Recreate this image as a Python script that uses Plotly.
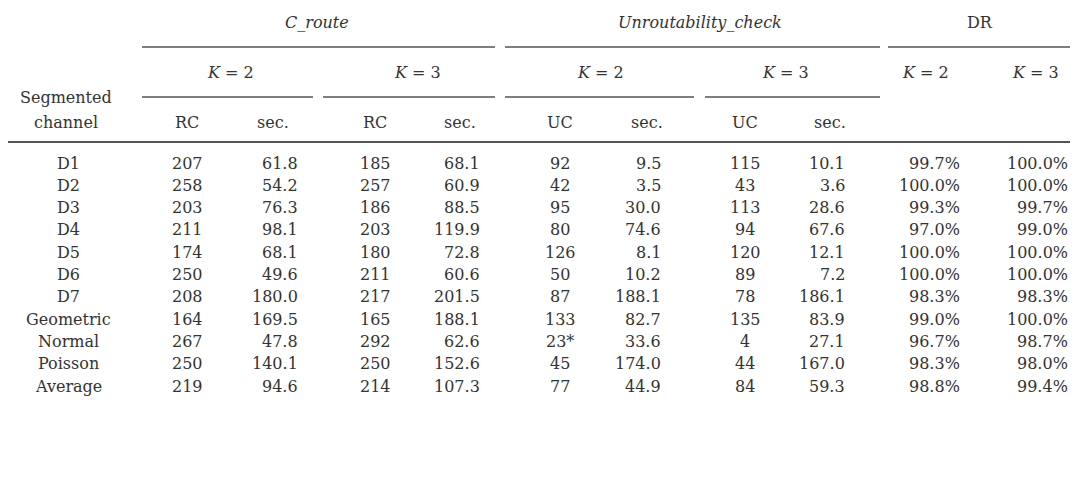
import plotly.graph_objects as go

channels = ["D1","D2","D3","D4","D5","D6","D7","Geometric","Normal","Poisson","Average"]
rc_k2 = ["207","258","203","211","174","250","208","164","267","250","219"]
sec_rc_k2 = ["61.8","54.2","76.3","98.1","68.1","49.6","180.0","169.5","47.8","140.1","94.6"]
rc_k3 = ["185","257","186","203","180","211","217","165","292","250","214"]
sec_rc_k3 = ["68.1","60.9","88.5","119.9","72.8","60.6","201.5","188.1","62.6","152.6","107.3"]
uc_k2 = ["92","42","95","80","126","50","87","133","23*","45","77"]
sec_uc_k2 = ["9.5","3.5","30.0","74.6","8.1","10.2","188.1","82.7","33.6","174.0","44.9"]
uc_k3 = ["115","43","113","94","120","89","78","135","4","44","84"]
sec_uc_k3 = ["10.1","3.6","28.6","67.6","12.1","7.2","186.1","83.9","27.1","167.0","59.3"]
dr_k2 = ["99.7%","100.0%","99.3%","97.0%","100.0%","100.0%","98.3%","99.0%","96.7%","98.3%","98.8%"]
dr_k3 = ["100.0%","100.0%","99.7%","99.0%","100.0%","100.0%","98.3%","100.0%","98.7%","98.0%","99.4%"]

FONT = "DejaVu Serif"
COL = "#333333"
fig = go.Figure()
ann = []
def t(x, y, s, anchor="center", italic=False, size=16):
    if italic:
        s = "<i>" + s + "</i>"
    ann.append(dict(x=x, y=y, text=s, xref="x", yref="y", showarrow=False,
                    xanchor=anchor, yanchor="middle", font=dict(family=FONT, size=size, color=COL)))

shapes = []
def hl(x0, x1, y, w=1.3):
    shapes.append(dict(type="line", xref="x", yref="y", x0=x0, x1=x1, y0=y, y1=y,
                       line=dict(color="#555555", width=w)))

t(317, 22, "C_route", italic=True)
t(700, 22, "Unroutability_check", italic=True)
t(980, 22, "DR")
hl(142, 495, 47); hl(505, 880, 47); hl(888, 1075, 47)
for x, s in [(230, "<i>K</i> = 2"), (417, "<i>K</i> = 3"), (600, "<i>K</i> = 2"),
             (785, "<i>K</i> = 3"), (925, "<i>K</i> = 2"), (1035, "<i>K</i> = 3")]:
    t(x, 72, s)
hl(142, 313, 97); hl(323, 495, 97); hl(505, 694, 97); hl(705, 880, 97)
t(66, 97, "Segmented"); t(66, 122, "channel")
for x, s in [(187, "RC"), (273, "sec."), (375, "RC"), (460, "sec."),
             (560, "UC"), (647, "sec."), (745, "UC"), (830, "sec.")]:
    t(x, 122, s)
hl(0, 1075, 142, 2)

cols = [(channels, 68, "center"), (rc_k2, 187, "center"), (sec_rc_k2, 300, "right"),
        (rc_k3, 375, "center"), (sec_rc_k3, 482, "right"), (uc_k2, 560, "center"),
        (sec_uc_k2, 663, "right"), (uc_k3, 745, "center"), (sec_uc_k3, 847, "right"),
        (dr_k2, 962, "right"), (dr_k3, 1070, "right")]
for vals, x, a in cols:
    for i, v in enumerate(vals):
        t(x, 163 + i * 22.3, v, anchor=a)

fig.update_layout(width=1078, height=483, margin=dict(l=0, r=0, t=0, b=0),
                  plot_bgcolor="white", paper_bgcolor="white",
                  xaxis=dict(range=[8, 1086], visible=False),
                  yaxis=dict(range=[491, 8], visible=False),
                  annotations=ann, shapes=shapes, showlegend=False)
fig.write_html("out.html")
